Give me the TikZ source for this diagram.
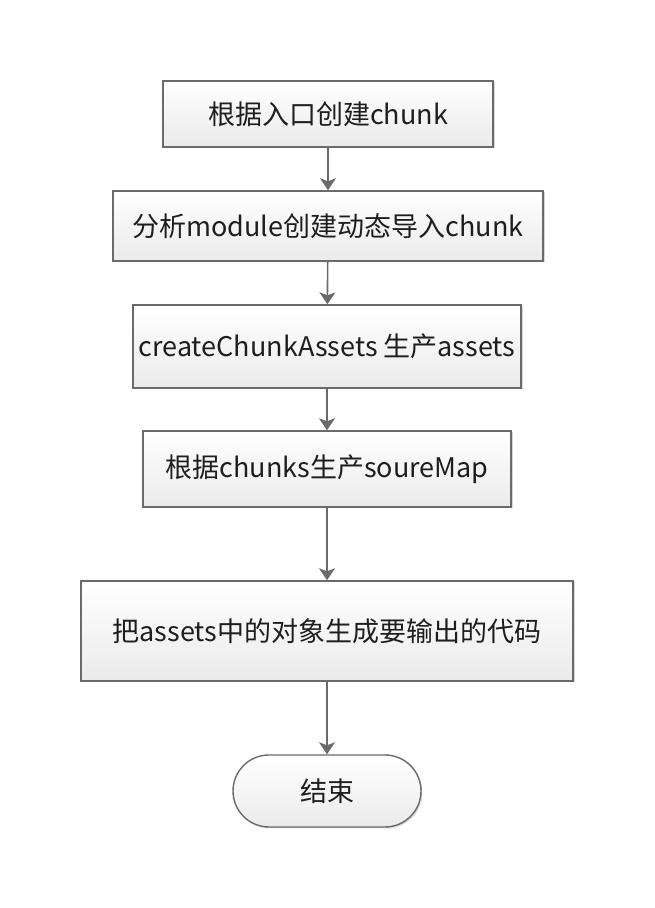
\documentclass[tikz,border=0pt]{standalone}
\usepackage{fontspec}
\setmainfont{Noto Sans CJK SC}
\usetikzlibrary{arrows.meta,shadows}
\definecolor{edgegray}{HTML}{6A6A6A}
\definecolor{txt}{HTML}{1E1E1E}
\tikzset{
  stepbox/.style={draw=edgegray, line width=1.4pt, top color=white, bottom color=black!8,
    drop shadow={shadow xshift=1.5pt, shadow yshift=-1.5pt, fill=black!25, opacity=0.6},
    minimum width=#1, inner sep=0pt, text=txt, font=\fontsize{27}{31}\selectfont},
  flow/.style={draw=edgegray, line width=1.6pt, -{Stealth[length=12pt,width=16pt,inset=3pt]}}
}
\begin{document}
\begin{tikzpicture}[x=1pt,y=1pt]
\useasboundingbox (0,0) rectangle (654,908);
\node[stepbox=330pt, minimum height=66pt] (b1) at (328,794) {根据入口创建chunk};
\node[stepbox=430pt, minimum height=70pt] (b2) at (328,682) {分析module创建动态导入chunk};
\node[stepbox=388pt, minimum height=83pt] (b3) at (327,561.5) {createChunkAssets 生产assets};
\node[stepbox=368pt, minimum height=76pt] (b4) at (327,439) {根据chunks生产soureMap};
\node[stepbox=492pt, minimum height=100pt] (b5) at (327,277) {把assets中的对象生成要输出的代码};
\node[stepbox=188pt, minimum height=72pt, rounded corners=36pt] (end) at (327,117) {结束};
\draw[flow] (b1) -- (b2);
\draw[flow] (b2) -- (b3);
\draw[flow] (b3) -- (b4);
\draw[flow] (b4) -- (b5);
\draw[flow] (b5) -- (end);
\end{tikzpicture}
\end{document}
